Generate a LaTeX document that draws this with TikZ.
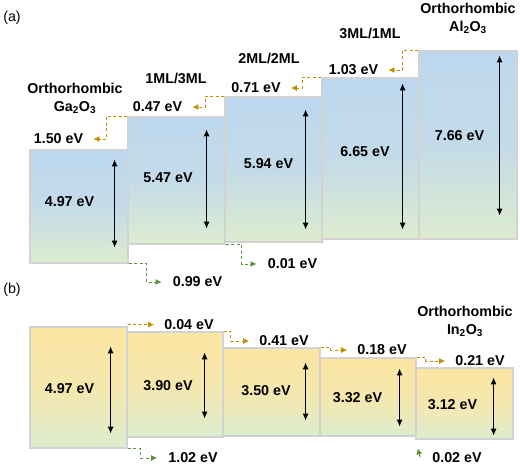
\documentclass[tikz,border=0pt]{standalone}
\usepackage{fontspec}
\setmainfont{Liberation Sans}
\usetikzlibrary{arrows.meta, calc}

\definecolor{bandblue}{RGB}{189,215,238}
\definecolor{bandyellow}{RGB}{253,230,163}
\definecolor{bandgreen}{RGB}{221,236,207}
\definecolor{offgold}{RGB}{191,144,0}
\definecolor{offgreen}{RGB}{96,145,60}

\begin{document}
\begin{tikzpicture}[
    x=1pt, y=-1pt,
    bandA/.style={
        rectangle, draw=gray!35, line width=1.2pt, inner sep=0pt,
        top color=bandblue, bottom color=bandgreen,
        middle color=bandblue!80!bandgreen
    },
    bandB/.style={
        rectangle, draw=gray!35, line width=1.2pt, inner sep=0pt,
        top color=bandyellow, bottom color=bandgreen,
        middle color=bandyellow!75!bandgreen
    },
    val/.style={font=\fontsize{14.3}{17}\selectfont\bfseries, inner sep=2pt},
    head/.style={font=\fontsize{14.3}{18}\selectfont\bfseries, align=center, inner sep=1pt},
    panel/.style={font=\fontsize{14.3}{17}\selectfont},
    gap/.style={line width=1.1pt, {Latex[length=7pt,width=6pt]}-{Latex[length=7pt,width=6pt]}},
    topoff/.style={offgold, dashed, dash pattern=on 3pt off 2.5pt, line width=1pt,
        -{Latex[length=6pt,width=6pt]}, shorten >=8pt},
    botoff/.style={offgreen, dashed, dash pattern=on 3pt off 2.5pt, line width=1pt,
        -{Latex[length=6pt,width=6pt]}, shorten >=9pt}
]
\useasboundingbox (0,0) rectangle (520,467);

% (a) Ga2O3 / Al2O3 superlattices
\node[panel] (pa) at (12,18) {(a)};

\node[bandA, minimum width=98pt, minimum height=113pt] (a1) at (79,206.5)  {};
\node[bandA, minimum width=97pt, minimum height=127pt] (a2) at (176.5,180.5) {};
\node[bandA, minimum width=97pt, minimum height=145pt] (a3) at (273.5,169.5) {};
\node[bandA, minimum width=97pt, minimum height=161pt] (a4) at (370.5,158.5) {};
\node[bandA, minimum width=98pt, minimum height=188pt] (a5) at (468,145)    {};

\node[val] (a1v) at (69.5,202)  {4.97 eV};
\node[val] (a2v) at (168,178)   {5.47 eV};
\node[val] (a3v) at (268.5,164) {5.94 eV};
\node[val] (a4v) at (365,152)   {6.65 eV};
\node[val] (a5v) at (459.5,136) {7.66 eV};

\draw[gap] ($(a1.north east)+(-14,10)$) -- ($(a1.south east)+(-14,-16)$);
\draw[gap] ($(a2.north east)+(-19,13)$) -- ($(a2.south east)+(-19,-16)$);
\draw[gap] ($(a3.north east)+(-17,13)$) -- ($(a3.south east)+(-17,-13)$);
\draw[gap] ($(a4.north east)+(-17,6)$)  -- ($(a4.south east)+(-17,-10)$);
\draw[gap] ($(a5.north east)+(-18,5)$)  -- ($(a5.south east)+(-18,-24)$);

\node[head] (ha1) at (75,98)  {Orthorhombic\\Ga\textsubscript{2}O\textsubscript{3}};
\node[head] (ha2) at (176,78) {1ML/3ML};
\node[head] (ha3) at (269,58) {2ML/2ML};
\node[head] (ha4) at (370,33) {3ML/1ML};
\node[head] (ha5) at (468,18) {Orthorhombic\\Al\textsubscript{2}O\textsubscript{3}};

\node[val] (l150) at (58.5,139)  {1.50 eV};
\node[val] (l047) at (157.5,107) {0.47 eV};
\node[val] (l071) at (256,88)    {0.71 eV};
\node[val] (l103) at (353.5,70)  {1.03 eV};
\node[val] (l099) at (197.5,282) {0.99 eV};
\node[val] (l001) at (292.5,264) {0.01 eV};

\draw[topoff] (a2.north west) -- ++(-21,0) |- (l150);
\draw[topoff] (a3.north west) -- ++(-19,0) |- (l047);
\draw[topoff] (a4.north west) -- ++(-19,0) |- (l071);
\draw[topoff] (a5.north west) -- ++(-16,0) |- (l103);
\draw[botoff] (a1.south east) -- ++(18,0) |- (l099);
\draw[botoff] (a2.south east) -- ++(16,0) |- (l001);

% (b) Ga2O3 / In2O3 superlattices
\node[panel] (pb) at (12,290) {(b)};

\node[bandB, minimum width=97pt, minimum height=121pt] (b1) at (78.5,387.5) {};
\node[bandB, minimum width=96pt, minimum height=105pt] (b2) at (175,384.5)  {};
\node[bandB, minimum width=97pt, minimum height=88pt]  (b3) at (271.5,392)  {};
\node[bandB, minimum width=96pt, minimum height=78pt]  (b4) at (368,397)    {};
\node[bandB, minimum width=97pt, minimum height=71pt]  (b5) at (464.5,403.5) {};

\node[val] (b1v) at (69.5,389) {4.97 eV};
\node[val] (b2v) at (168,386)  {3.90 eV};
\node[val] (b3v) at (266,391)  {3.50 eV};
\node[val] (b4v) at (357.5,398) {3.32 eV};
\node[val] (b5v) at (452.5,405) {3.12 eV};

\draw[gap] ($(b1.north east)+(-17,20)$) -- ($(b1.south east)+(-17,-15)$);
\draw[gap] ($(b2.north east)+(-19,21)$) -- ($(b2.south east)+(-19,-19)$);
\draw[gap] ($(b3.north east)+(-15,15)$) -- ($(b3.south east)+(-15,-16)$);
\draw[gap] ($(b4.north east)+(-17,11)$) -- ($(b4.south east)+(-17,-10)$);
\draw[gap] ($(b5.north east)+(-20,10)$) -- ($(b5.south east)+(-20,-4)$);

\node[head] (hb5) at (465,321) {Orthorhombic\\In\textsubscript{2}O\textsubscript{3}};

\node[val] (l004) at (189,325) {0.04 eV};
\node[val] (l041) at (284,341) {0.41 eV};
\node[val] (l018) at (382,350) {0.18 eV};
\node[val] (l021) at (480,361) {0.21 eV};
\node[val] (l102) at (193,458) {1.02 eV};
\node[val] (l002) at (457,458) {0.02 eV};
\coordinate (c002) at (420,457);

\draw[topoff] ($(b1.north east)+(0,-2)$) -- (l004);
\draw[topoff] (b2.north east) -- ++(7,0) |- (l041);
\draw[topoff] (b3.north east) -- ++(10,0) |- (l018);
\draw[topoff] (b4.north east) -- ++(9,0) |- (l021);
\draw[botoff] (b1.south east) -- ++(13,0) |- (l102);
\draw[botoff, shorten >=9pt] (c002) -- (b5.south west);

\end{tikzpicture}
\end{document}
